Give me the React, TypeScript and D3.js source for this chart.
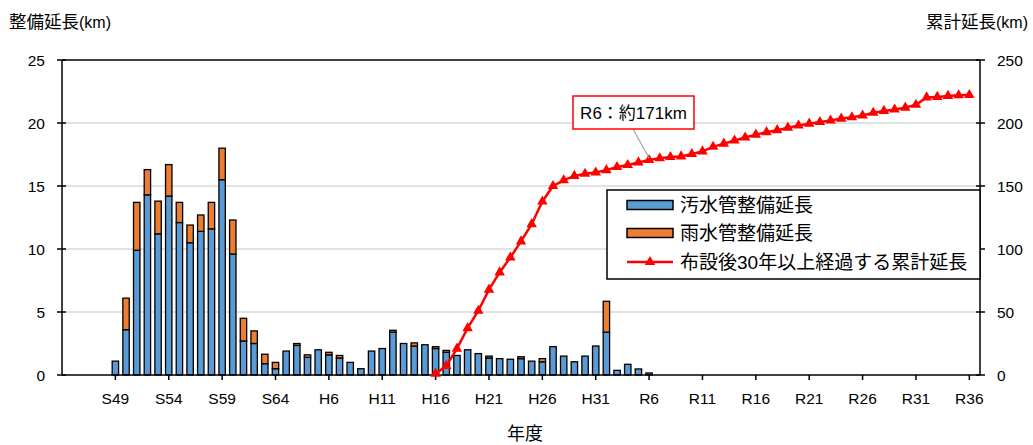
import { useEffect, useRef } from 'react';
import * as d3 from 'd3';

// 年度 (西暦) — bars 1974(S49)..2024(R6)
const barYears = d3.range(1974, 2025);
// 汚水管整備延長 (km)
const sewerKm = [
    1.1, 3.6, 9.9, 14.3, 11.2, 14.2, 12.1, 10.5, 11.4, 11.6,
    15.5, 9.6, 2.7, 2.5, 0.9, 0.5, 1.9, 2.35, 1.4, 2.0,
    1.6, 1.35, 1.0, 0.5, 1.9, 2.1, 3.4, 2.5, 2.3, 2.4,
    2.1, 1.8, 1.55, 2.0, 1.7, 1.35, 1.3, 1.25, 1.3, 1.1,
    1.05, 2.25, 1.5, 1.05, 1.5, 2.3, 3.4, 0.37, 0.85, 0.48,
    0.16,
];
// 雨水管整備延長 (km)
const stormKm = [
    0, 2.5, 3.8, 2.0, 2.6, 2.5, 1.6, 1.4, 1.3, 2.1,
    2.5, 2.7, 1.8, 1.0, 0.75, 0.5, 0, 0.15, 0.2, 0,
    0.2, 0.2, 0, 0, 0, 0, 0.15, 0, 0.25, 0,
    0.15, 0.15, 0, 0, 0, 0.15, 0, 0, 0.15, 0,
    0.25, 0, 0, 0, 0, 0, 2.45, 0, 0, 0,
    0,
];
// 布設後30年以上経過する累計延長 (km) — 2004(H16)..2054(R36)
const lineYears = d3.range(2004, 2055);
const cumulativeKm = [
    1.1, 7.2, 20.9, 37.2, 51.0, 67.7, 81.4, 93.3, 106.0, 119.7,
    137.7, 150.0, 154.5, 158.0, 159.7, 160.7, 162.6, 165.1, 166.7, 168.7,
    170.6, 172.0, 173.0, 173.5, 175.4, 177.5, 181.1, 183.6, 186.1, 188.5,
    190.8, 192.7, 194.3, 196.3, 198.0, 199.5, 200.8, 202.0, 203.5, 204.6,
    205.9, 208.1, 209.6, 210.7, 212.2, 214.5, 220.3, 220.7, 221.5, 222.0,
    222.2,
];

const tickYears = [1974, 1979, 1984, 1989, 1994, 1999, 2004, 2009, 2014, 2019, 2024, 2029, 2034, 2039, 2044, 2049, 2054];
const tickLabels = ['S49', 'S54', 'S59', 'S64', 'H6', 'H11', 'H16', 'H21', 'H26', 'H31', 'R6', 'R11', 'R16', 'R21', 'R26', 'R31', 'R36'];
const leftTicks = [0, 5, 10, 15, 20, 25];
const rightTicks = [0, 50, 100, 150, 200, 250];

const FONT = '"Liberation Sans", "Noto Sans CJK JP", sans-serif';

export default function App() {
    const ref = useRef<SVGSVGElement | null>(null);

    useEffect(() => {
        const width = 1033;
        const height = 445;
        const left = 62;
        const right = 980;
        const top = 60;
        const bottom = 375;

        const svg = d3.select(ref.current);
        svg.selectAll('*').remove();
        svg.attr('width', width).attr('height', height).style('font-family', FONT);

        const x = d3.scaleLinear().domain([1969, 2055]).range([left, right]);
        const yL = d3.scaleLinear().domain([0, 25]).range([bottom, top]);
        const yR = d3.scaleLinear().domain([0, 250]).range([bottom, top]);

        svg.append('rect').attr('width', width).attr('height', height).attr('fill', '#fff');

        // === gridlines ===
        svg.append('g')
            .selectAll('line')
            .data(leftTicks.filter((t) => t > 0 && t < 25))
            .enter()
            .append('line')
            .attr('x1', left)
            .attr('x2', right)
            .attr('y1', (d) => yL(d))
            .attr('y2', (d) => yL(d))
            .attr('stroke', '#d9d9d9')
            .attr('stroke-width', 1.5);

        // === stacked bars ===
        const rows = barYears.map((yr, i) => ({ year: yr, sewer: sewerKm[i], storm: stormKm[i] }));
        const series = d3.stack<any>().keys(['sewer', 'storm'])(rows);
        const color = d3.scaleOrdinal<string>().domain(['sewer', 'storm']).range(['#5b9bd5', '#ed7d31']);
        const bw = 6.4;

        series.forEach((s) => {
            svg.append('g')
                .selectAll('rect')
                .data(s.filter((d) => d[1] - d[0] > 0))
                .enter()
                .append('rect')
                .attr('x', (d) => x(d.data.year) - bw / 2)
                .attr('width', bw)
                .attr('y', (d) => yL(d[1]))
                .attr('height', (d) => yL(d[0]) - yL(d[1]))
                .attr('fill', color(s.key)!)
                .attr('stroke', '#000')
                .attr('stroke-width', 1.3);
        });

        // === frame / axes ===
        const frame = svg.append('g').attr('stroke', '#000').attr('stroke-width', 1.5);
        frame.append('line').attr('x1', left).attr('x2', right).attr('y1', top).attr('y2', top);
        frame.append('line').attr('x1', left).attr('x2', right).attr('y1', bottom).attr('y2', bottom);
        frame.append('line').attr('x1', left).attr('x2', left).attr('y1', top).attr('y2', bottom);
        frame.append('line').attr('x1', right).attr('x2', right).attr('y1', top).attr('y2', bottom);

        leftTicks.forEach((t) => {
            frame.append('line').attr('x1', left - 5).attr('x2', left + 4).attr('y1', yL(t)).attr('y2', yL(t));
        });
        rightTicks.forEach((t) => {
            frame.append('line').attr('x1', right - 4).attr('x2', right + 5).attr('y1', yR(t)).attr('y2', yR(t));
        });
        tickYears.forEach((t) => {
            frame.append('line').attr('x1', x(t)).attr('x2', x(t)).attr('y1', bottom).attr('y2', bottom + 5);
        });

        svg.append('g')
            .selectAll('text')
            .data(leftTicks)
            .enter()
            .append('text')
            .attr('x', 45)
            .attr('y', (d) => yL(d) + 5.5)
            .attr('text-anchor', 'end')
            .attr('font-size', '15.5px')
            .text((d) => d);

        svg.append('g')
            .selectAll('text')
            .data(rightTicks)
            .enter()
            .append('text')
            .attr('x', 997)
            .attr('y', (d) => yR(d) + 5.5)
            .attr('font-size', '15.5px')
            .text((d) => d);

        svg.append('g')
            .selectAll('text')
            .data(tickYears)
            .enter()
            .append('text')
            .attr('x', (d) => x(d))
            .attr('y', 404)
            .attr('text-anchor', 'middle')
            .attr('font-size', '15.5px')
            .text((_, i) => tickLabels[i]);

        // === titles ===
        const lt = svg.append('text').attr('x', 9).attr('y', 28).attr('font-size', '17.5px');
        lt.append('tspan').text('整備延長');
        lt.append('tspan').attr('font-size', '16px').text('(km)');

        const rt = svg.append('text').attr('x', 1028).attr('y', 28).attr('font-size', '17.5px').attr('text-anchor', 'end');
        rt.append('tspan').text('累計延長');
        rt.append('tspan').attr('font-size', '16px').text('(km)');

        svg.append('text')
            .attr('x', 525)
            .attr('y', 440)
            .attr('text-anchor', 'middle')
            .attr('font-size', '18px')
            .text('年度');

        // === cumulative line ===
        const pts = lineYears.map((yr, i) => ({ year: yr, v: cumulativeKm[i] }));
        const line = d3.line<{ year: number; v: number }>()
            .x((d) => x(d.year))
            .y((d) => yR(d.v));

        svg.append('path')
            .datum(pts)
            .attr('d', line)
            .attr('fill', 'none')
            .attr('stroke', '#ff0000')
            .attr('stroke-width', 2.5);

        const tri = d3.symbol().type(d3.symbolTriangle).size(48);
        svg.append('g')
            .selectAll('path')
            .data(pts)
            .enter()
            .append('path')
            .attr('d', tri as any)
            .attr('transform', (d) => `translate(${x(d.year)}, ${yR(d.v)})`)
            .attr('fill', '#ff0000');

        // === annotation ===
        const r6 = pts.find((p) => p.year === 2024)!;
        svg.append('line')
            .attr('x1', 633)
            .attr('y1', 129)
            .attr('x2', x(r6.year))
            .attr('y2', yR(r6.v) - 2)
            .attr('stroke', '#a6a6a6')
            .attr('stroke-width', 1.2);
        svg.append('rect')
            .attr('x', 573)
            .attr('y', 96)
            .attr('width', 121)
            .attr('height', 33)
            .attr('fill', '#fff')
            .attr('stroke', '#ff0000')
            .attr('stroke-width', 1.5);
        svg.append('text')
            .attr('x', 633.5)
            .attr('y', 118.5)
            .attr('text-anchor', 'middle')
            .attr('font-size', '17px')
            .text('R6：約171km');

        // === legend ===
        const legend = svg.append('g').attr('transform', 'translate(607, 190)');
        legend.append('rect')
            .attr('width', 373)
            .attr('height', 89)
            .attr('fill', '#fff')
            .attr('stroke', '#000')
            .attr('stroke-width', 1.5);

        const legendLabels = ['汚水管整備延長', '雨水管整備延長', '布設後30年以上経過する累計延長'];
        const rowY = [15, 43, 72];
        ['sewer', 'storm'].forEach((k, i) => {
            legend.append('rect')
                .attr('x', 20)
                .attr('y', rowY[i] - 4.5)
                .attr('width', 46)
                .attr('height', 9)
                .attr('fill', color(k)!)
                .attr('stroke', '#000')
                .attr('stroke-width', 1.5);
        });
        legend.append('line')
            .attr('x1', 20)
            .attr('x2', 66)
            .attr('y1', rowY[2])
            .attr('y2', rowY[2])
            .attr('stroke', '#ff0000')
            .attr('stroke-width', 2.5);
        legend.append('path')
            .attr('d', tri as any)
            .attr('transform', `translate(43, ${rowY[2]})`)
            .attr('fill', '#ff0000');

        legend.selectAll('.lt')
            .data(legendLabels)
            .enter()
            .append('text')
            .attr('x', 73)
            .attr('y', (_, i) => rowY[i] + 7)
            .attr('font-size', '19px')
            .text((d) => d);
    }, []);

    return <svg ref={ref} style={{ position: 'absolute', left: 0, top: 0 }} />;
}
